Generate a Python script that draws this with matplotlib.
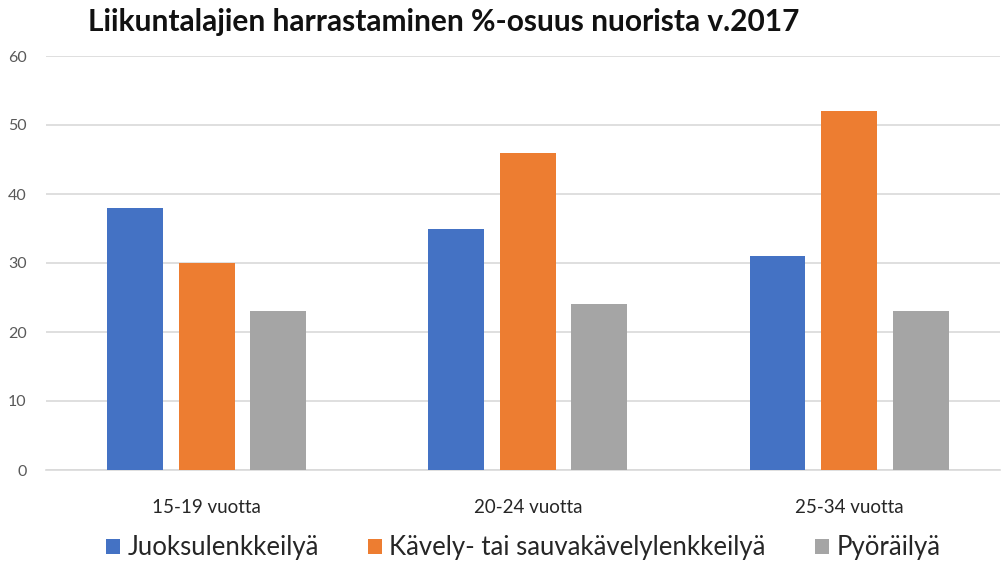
import matplotlib
matplotlib.use("Agg")
import matplotlib.pyplot as plt
import numpy as np

categories = ["15-19 vuotta", "20-24 vuotta", "25-34 vuotta"]
series_names = ["Juoksulenkkeilyä", "Kävely- tai sauvakävelylenkkeilyä", "Pyöräilyä"]
juoksu = [38, 35, 31]
kavely = [30, 46, 52]
pyoraily = [23, 24, 23]
yticks = [0, 10, 20, 30, 40, 50, 60]
title = "Liikuntalajien harrastaminen %-osuus nuorista v.2017"

colors = ["#4472C4", "#ED7D31", "#A5A5A5"]

plt.rcParams['font.family'] = ['Lato', 'DejaVu Sans']

fig = plt.figure(figsize=(10.02, 5.68), dpi=100)
ax = fig.add_axes([46/1002, 1-470/568, (1000-46)/1002, (470-56)/568])

x = np.arange(len(categories))
w = 0.174
off = 0.2227
for i, (vals, name) in enumerate(zip([juoksu, kavely, pyoraily], series_names)):
    ax.bar(x + (i-1)*off, vals, width=w, color=colors[i], label=name, zorder=3)

ax.set_ylim(0, 60)
ax.set_xlim(-0.5, 2.47)
ax.set_yticks(yticks)
ax.set_yticklabels([str(t) for t in yticks], color="#595959", fontsize=11.5)
ax.set_xticks(x)
ax.set_xticklabels(categories, fontsize=13.5, color="#262626")
ax.tick_params(axis='both', length=0)
ax.tick_params(axis='x', pad=21)
ax.tick_params(axis='y', pad=14)
ax.grid(axis='y', color="#D9D9D9", linewidth=1.2, zorder=0)
for s in ["top", "right", "left"]:
    ax.spines[s].set_visible(False)
ax.spines["bottom"].set_color("#D9D9D9")
ax.spines["bottom"].set_linewidth(1.2)

fig.text(88/1002, 1-22/568, title, fontsize=21.5, fontweight='bold', va='center', ha='left', color="#111111")

fig.legend(loc='center', bbox_to_anchor=(0.522, 1-548/568), ncol=3, frameon=False,
           fontsize=18.5, handlelength=0.55, handleheight=0.55, handletextpad=0.3,
           columnspacing=1.9, labelcolor="#262626")

fig.savefig("out.png", dpi=100)
